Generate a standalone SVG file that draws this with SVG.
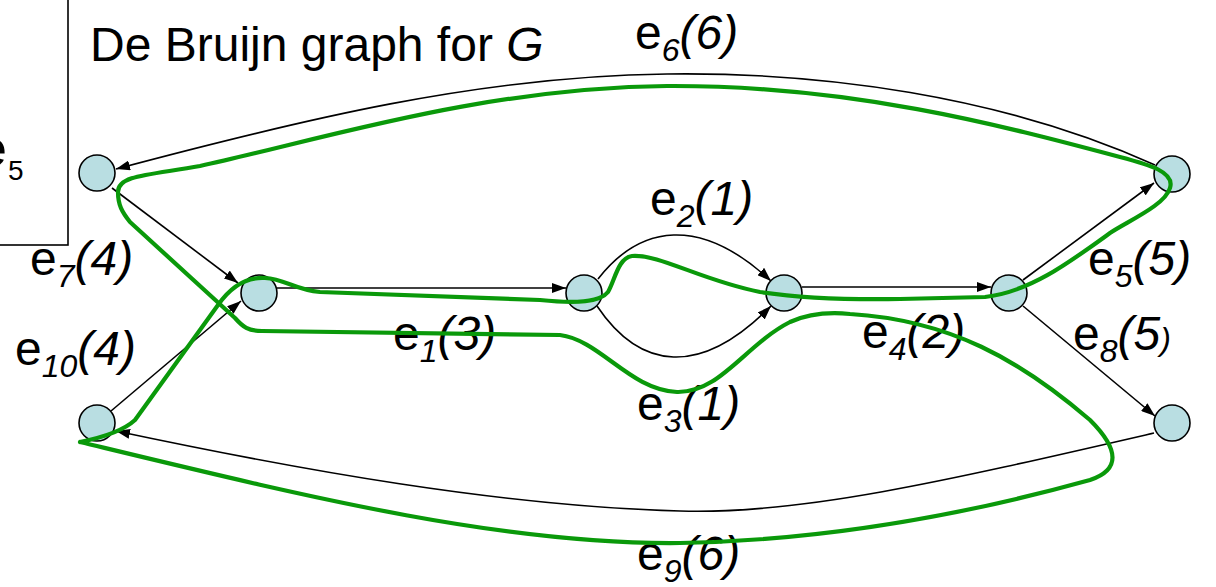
<svg xmlns="http://www.w3.org/2000/svg" width="1216" height="587" viewBox="0 0 1216 587">
<style>
.edge{fill:none;stroke:#000;stroke-width:1.6}
.node{fill:#b9dee2;stroke:#000;stroke-width:1.6}
.lbl{font-family:"Liberation Sans",Arial,sans-serif;font-size:48px;fill:#000}
.sub{font-size:32px;font-style:italic}
.it{font-style:italic}
.path{fill:none;stroke:#0a990a;stroke-width:4.2;stroke-linejoin:round;stroke-linecap:round}
</style>
<defs>
<marker id="arr" viewBox="0 0 14 10" refX="14" refY="5" markerWidth="14" markerHeight="10" orient="auto" markerUnits="userSpaceOnUse"><path d="M0,0 L14,5 L0,10 z" fill="#000"/></marker>
</defs>
<rect width="1216" height="587" fill="#fff"/>
<g id="box">
<rect x="-10" y="-10" width="78" height="255" fill="none" stroke="#000" stroke-width="1.6"/>
<text class="lbl" x="-21" y="166" style="font-size:50px">e</text>
<text class="lbl" x="8" y="180" style="font-size:28px">5</text>
</g>
<text class="lbl" x="90" y="61">De Bruijn graph for <tspan class="it">G</tspan></text>
<g id="connectors">
<path class="edge" marker-end="url(#arr)" d="M1155,165 C1000,95 820,72 667,74 C480,76 300,120 116,169"/>
<path class="edge" marker-end="url(#arr)" d="M112,188 L238,283"/>
<path class="edge" marker-end="url(#arr)" d="M111,411 L241,301"/>
<path class="edge" marker-end="url(#arr)" d="M277,288 L566,288"/>
<path class="edge" marker-end="url(#arr)" d="M598,279 C640,225 700,215 771,281"/>
<path class="edge" marker-end="url(#arr)" d="M597,306 C640,370 700,378 771,306"/>
<path class="edge" marker-end="url(#arr)" d="M802,287 L991,287"/>
<path class="edge" marker-end="url(#arr)" d="M1023,280 L1154,183"/>
<path class="edge" marker-end="url(#arr)" d="M1023,306 L1155,416"/>
<path class="edge" marker-end="url(#arr)" d="M1154,433 C950,480 800,515 680,511 C500,506 300,470 116,431"/>
</g>
<g id="n1"><ellipse class="node" cx="97" cy="173" rx="18" ry="18"/></g>
<g id="n2"><ellipse class="node" cx="259" cy="293" rx="18" ry="18"/></g>
<g id="n3"><ellipse class="node" cx="584" cy="293" rx="18" ry="18"/></g>
<g id="n4"><ellipse class="node" cx="784" cy="293" rx="18" ry="18"/></g>
<g id="n5"><ellipse class="node" cx="1009" cy="293" rx="18" ry="18"/></g>
<g id="n6"><ellipse class="node" cx="1172" cy="174" rx="18" ry="18"/></g>
<g id="n7"><ellipse class="node" cx="1172" cy="423" rx="18" ry="18"/></g>
<g id="n8"><ellipse class="node" cx="97" cy="423" rx="18" ry="18"/></g>
<g id="labels">
<text class="lbl" x="635" y="49">e<tspan class="sub" dy="12">6</tspan><tspan class="it" dy="-12">(6)</tspan></text>
<text class="lbl" x="650" y="215">e<tspan class="sub" dy="12">2</tspan><tspan class="it" dy="-12">(1)</tspan></text>
<text class="lbl" x="30" y="275">e<tspan class="sub" dy="12">7</tspan><tspan class="it" dy="-12">(4)</tspan></text>
<text class="lbl" x="1088" y="275">e<tspan class="sub" dy="12">5</tspan><tspan class="it" dy="-12">(5)</tspan></text>
<text class="lbl" x="15" y="365">e<tspan class="sub" dy="12">10</tspan><tspan class="it" dy="-12">(4)</tspan></text>
<text class="lbl" x="393" y="350">e<tspan class="sub" dy="12">1</tspan><tspan class="it" dy="-12">(3)</tspan></text>
<text class="lbl" x="862" y="348">e<tspan class="sub" dy="12">4</tspan><tspan class="it" dy="-12">(2)</tspan></text>
<text class="lbl" x="1073" y="350">e<tspan class="sub" dy="12">8</tspan><tspan class="it" dy="-12">(5</tspan><tspan class="it" style="font-size:32px">)</tspan></text>
<text class="lbl" x="637" y="420">e<tspan class="sub" dy="12">3</tspan><tspan class="it" dy="-12">(1)</tspan></text>
<text class="lbl" x="637" y="570">e<tspan class="sub" dy="12">9</tspan><tspan class="it" dy="-12">(6)</tspan></text>
</g>
<g id="eulerian-path">
<path class="path" d="M80,442 C100,438 122,432 135,420 L218,305 C232,285 248,277 265,278 C285,279 295,290 320,292 L540,300 C578,304 600,302 608,292 C615,280 618,258 632,256 C660,254 700,280 760,292 C800,298 840,300 900,299 L985,297 C1030,292 1070,262 1110,233 C1130,220 1165,205 1170,188 C1175,172 1150,165 1120,157 C1000,125 850,85 667,86 C480,88 320,140 200,166 C150,175 118,175 118,192 C118,205 122,212 130,222 L235,318 C243,327 248,331 262,331 L560,335 C600,340 630,390 677,392 C720,393 745,345 790,322 C810,313 830,312 850,314 C950,320 1020,360 1090,420 C1120,450 1120,470 1090,480 C1000,505 850,540 680,543 C500,545 300,495 80,442"/>
</g>
</svg>
